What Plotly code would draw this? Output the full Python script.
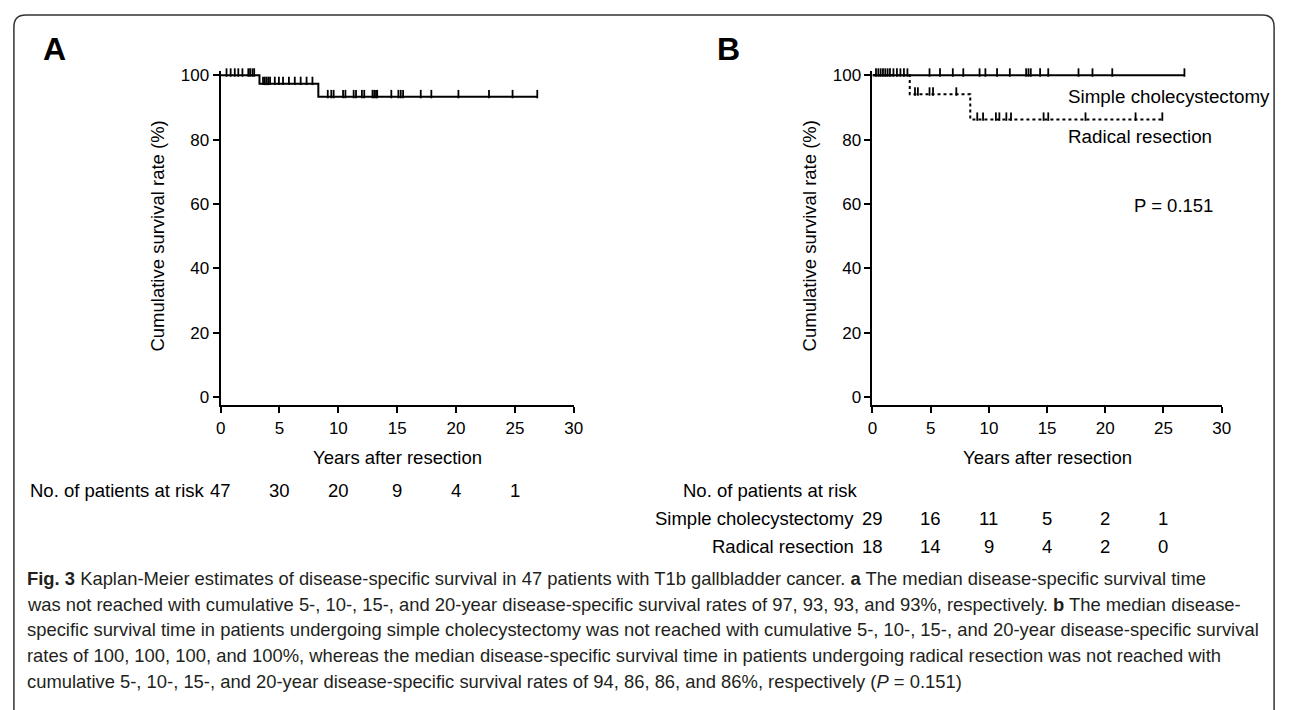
import plotly.graph_objects as go

# ---------------- data ----------------
x_ticks = [0, 5, 10, 15, 20, 25, 30]
y_ticks = [0, 20, 40, 60, 80, 100]

# Panel A: all 47 patients
a_step_times = [0, 3.3, 8.3]
a_step_surv = [100, 97.4, 93.3]
a_last_time = 26.9
a_censor_times = [0.5, 0.85, 1.2, 1.5, 1.85, 2.35, 2.5, 2.7, 2.85,
                  3.6, 3.75, 3.9, 4.05, 4.2, 4.6, 4.95,
                  5.3, 5.8, 6.3, 6.8, 7.3, 7.8, 9.1, 9.4, 9.6,
                  10.4, 10.6, 11.3, 11.5, 12.0, 12.2, 12.9, 13.05, 13.2, 13.3,
                  14.5, 15.1, 15.3, 15.5, 17.0, 17.9, 20.2, 22.8, 24.8, 26.9]
a_risk = [47, 30, 20, 9, 4, 1]

# Panel B: simple cholecystectomy
s_step_times = [0]
s_step_surv = [100]
s_last_time = 26.8
s_censor_times = [0.3, 0.5, 0.7, 0.9, 1.1, 1.3, 1.5, 1.8, 2.1, 2.4, 2.7, 3.0, 4.9,
                  5.8, 6.9, 7.8, 9.2, 9.7,
                  10.7, 11.8, 13.2, 13.4, 13.6, 14.4,
                  15.1, 17.7, 18.9, 20.6, 26.8]
s_risk = [29, 16, 11, 5, 2, 1]

# Panel B: radical resection
r_step_times = [0, 3.2, 8.4]
r_step_surv = [100, 94.1, 86.3]
r_last_time = 24.9
r_censor_times = [3.65, 3.9, 4.9, 5.2, 7.2, 9.0, 9.5,
                  10.6, 10.9, 11.5, 11.9, 14.7, 15.1, 18.3, 22.6, 24.9]
r_risk = [18, 14, 9, 4, 2, 0]

caption_lines = [
    "<b>Fig. 3</b> Kaplan-Meier estimates of disease-specific survival in 47 patients with T1b gallbladder cancer. <b>a</b> The median disease-specific survival time",
    "was not reached with cumulative 5-, 10-, 15-, and 20-year disease-specific survival rates of 97, 93, 93, and 93%, respectively. <b>b</b> The median disease-",
    "specific survival time in patients undergoing simple cholecystectomy was not reached with cumulative 5-, 10-, 15-, and 20-year disease-specific survival",
    "rates of 100, 100, 100, and 100%, whereas the median disease-specific survival time in patients undergoing radical resection was not reached with",
    "cumulative 5-, 10-, 15-, and 20-year disease-specific survival rates of 94, 86, 86, and 86%, respectively (<i>P</i> = 0.151)",
]

# ---------------- layout geometry (pixels) ----------------
W, H = 1292, 710
Y100, Y0 = 71, 396          # pixel rows of 100 % and 0 %
PX_PER_UNIT = (Y0 - Y100) / 100.0
Y_RANGE = [-2.5, 101.2]
A_X0, A_X1 = 218, 575
B_X0, B_X1 = 877, 1230
FONT = "Liberation Sans, Arial, sans-serif"
CAP_FONT = "Liberation Sans, Arial, sans-serif"
LBL = 18.5


def fx(px):
    return px / W


def fy(py):
    return 1 - py / H


y_dom = [fy(Y0 + (0 - Y_RANGE[0]) * PX_PER_UNIT), fy(Y100 - (Y_RANGE[1] - 100) * PX_PER_UNIT)]


def surv_at(t, times, surv):
    val = surv[0]
    for ti, si in zip(times, surv):
        if t >= ti:
            val = si
    return val


fig = go.Figure()


def add_curve(times, surv, last, censors, dash, xa, ya):
    xs = list(times) + [last]
    ys = list(surv) + [surv[-1]]
    fig.add_trace(go.Scatter(x=xs, y=ys, mode="lines", line_shape="hv",
                             line=dict(color="black", width=2, dash=dash),
                             xaxis=xa, yaxis=ya, showlegend=False, hoverinfo="skip"))
    off = 2.8 / PX_PER_UNIT
    fig.add_trace(go.Scatter(x=censors, y=[surv_at(c, times, surv) + off for c in censors],
                             mode="markers", cliponaxis=False,
                             marker=dict(symbol="line-ns", size=6,
                                         line=dict(color="black", width=1.8)),
                             xaxis=xa, yaxis=ya, showlegend=False, hoverinfo="skip"))


add_curve(a_step_times, a_step_surv, a_last_time, a_censor_times, "solid", "x", "y")
add_curve(r_step_times, r_step_surv, r_last_time, r_censor_times, "dot", "x2", "y2")
add_curve(s_step_times, s_step_surv, s_last_time, s_censor_times, "solid", "x2", "y2")

axis_common = dict(showline=True, linewidth=2, linecolor="black", ticks="outside",
                   ticklen=6, tickwidth=2, tickcolor="black", showgrid=False,
                   zeroline=False, tickfont=dict(family=FONT, size=17, color="black"))

fig.update_layout(
    width=W, height=H, margin=dict(l=0, r=0, t=0, b=0),
    paper_bgcolor="white", plot_bgcolor="white",
    xaxis=dict(domain=[fx(A_X0), fx(A_X1)], range=[0, 30], tickvals=x_ticks,
               anchor="y", **axis_common),
    yaxis=dict(domain=y_dom, range=Y_RANGE, tickvals=y_ticks, anchor="x", **axis_common),
    xaxis2=dict(domain=[fx(B_X0), fx(B_X1)], range=[0, 30], tickvals=x_ticks,
                anchor="y2", **axis_common),
    yaxis2=dict(domain=y_dom, range=Y_RANGE, tickvals=y_ticks, anchor="x2", **axis_common),
)

ann = []


def text(x, y, s, size=LBL, xanchor="center", yanchor="middle", font=FONT, angle=0, color="black"):
    ann.append(dict(x=fx(x), y=fy(y), xref="paper", yref="paper", text=s, showarrow=False,
                    xanchor=xanchor, yanchor=yanchor, textangle=angle,
                    font=dict(family=font, size=size, color=color)))


# panel letters
text(36, 44, "<b>A</b>", size=32, xanchor="left")
text(718, 44, "<b>B</b>", size=32, xanchor="left")

# axis titles
for x0, x1 in [(A_X0, A_X1), (B_X0, B_X1)]:
    text(x0 - 64, (Y100 + Y0) / 2, "Cumulative survival rate (%)", angle=-90)
    text((x0 + x1) / 2, 457, "Years after resection")

# curve labels
text(1073, 92, "Simple cholecystectomy", size=18.8, xanchor="left")
text(1073, 133, "Radical resection", size=18.8, xanchor="left")
text(1181, 203, "P = 0.151", size=18.5)


def tx(t, x0, x1):
    return x0 + (x1 - x0) * t / 30.0


# numbers at risk
ROW1, ROW2, ROW3 = 490, 519, 547
text(204, ROW1, "No. of patients at risk", xanchor="right")
for t, n in zip(x_ticks, a_risk):
    text(tx(t, A_X0, A_X1), ROW1, str(n))
text(683, ROW1, "No. of patients at risk", xanchor="left")
text(860, ROW2, "Simple cholecystectomy", xanchor="right")
text(860, ROW3, "Radical resection", xanchor="right")
for t, n in zip(x_ticks, s_risk):
    text(tx(t, B_X0, B_X1), ROW2, str(n))
for t, n in zip(x_ticks, r_risk):
    text(tx(t, B_X0, B_X1), ROW3, str(n))

# caption
for i, line in enumerate(caption_lines):
    text(20, 579 + 26 * i, line, size=18.4, xanchor="left", font=CAP_FONT, color="#231f20")

fig.update_layout(annotations=ann)

# rounded frame
R = 12
L, T, Rt, B = 9, 10, 1283, 760
path = (f"M {fx(L)},{fy(B)} L {fx(L)},{fy(T + R)} Q {fx(L)},{fy(T)} {fx(L + R)},{fy(T)} "
        f"L {fx(Rt - R)},{fy(T)} Q {fx(Rt)},{fy(T)} {fx(Rt)},{fy(T + R)} L {fx(Rt)},{fy(B)}")
fig.add_shape(type="path", path=path, xref="paper", yref="paper",
              line=dict(color="#333333", width=1.5))

fig.write_html("out.html", config={"displayModeBar": False},
               post_script="document.body.style.margin='0px';")
